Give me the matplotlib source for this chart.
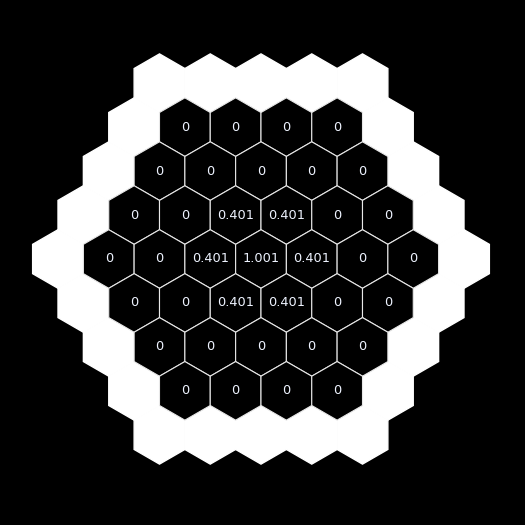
import matplotlib
matplotlib.use("Agg")
import matplotlib.pyplot as plt
from matplotlib.patches import RegularPolygon
import numpy as np

# Values per row (top to bottom) of the hexagonal grid, radius 3
row_values = [
    [0, 0, 0, 0],
    [0, 0, 0, 0, 0],
    [0, 0, 0.401, 0.401, 0, 0],
    [0, 0, 0.401, 1.001, 0.401, 0, 0],
    [0, 0, 0.401, 0.401, 0, 0],
    [0, 0, 0, 0, 0],
    [0, 0, 0, 0],
]
grid_radius = 3
ring_radius = 4

def fmt(v):
    return "0" if v == 0 else f"{v:.3f}"

fig = plt.figure(figsize=(5.25, 5.25), dpi=100, facecolor="black")
ax = fig.add_axes([0, 0, 1, 1])
ax.set_facecolor("black")
ax.set_xlim(0, 525)
ax.set_ylim(525, 0)
ax.axis("off")

R = 29.3
dx = R * np.sqrt(3)
dy = 1.5 * R
cx, cy = 261, 259

def center(q, r):
    return cx + dx * (q + r / 2.0), cy + dy * r

# outer white ring
N = ring_radius
for r in range(-N, N + 1):
    for q in range(-N, N + 1):
        s = -q - r
        if max(abs(q), abs(r), abs(s)) == N:
            x, y = center(q, r)
            ax.add_patch(RegularPolygon((x, y), 6, radius=R, orientation=0,
                                        facecolor="white", edgecolor="white", lw=1))

# inner grid
for i, vals in enumerate(row_values):
    r = i - grid_radius
    qmin = max(-grid_radius, -grid_radius - r)
    for j, v in enumerate(vals):
        q = qmin + j
        x, y = center(q, r)
        ax.add_patch(RegularPolygon((x, y), 6, radius=R, orientation=0,
                                    facecolor="black", edgecolor="#e8e8e8", lw=0.8))
        ax.text(x, y, fmt(v), color="#eef3ff", ha="center", va="center",
                fontsize=9.3)

fig.savefig("out.png", dpi=100, facecolor="black")
